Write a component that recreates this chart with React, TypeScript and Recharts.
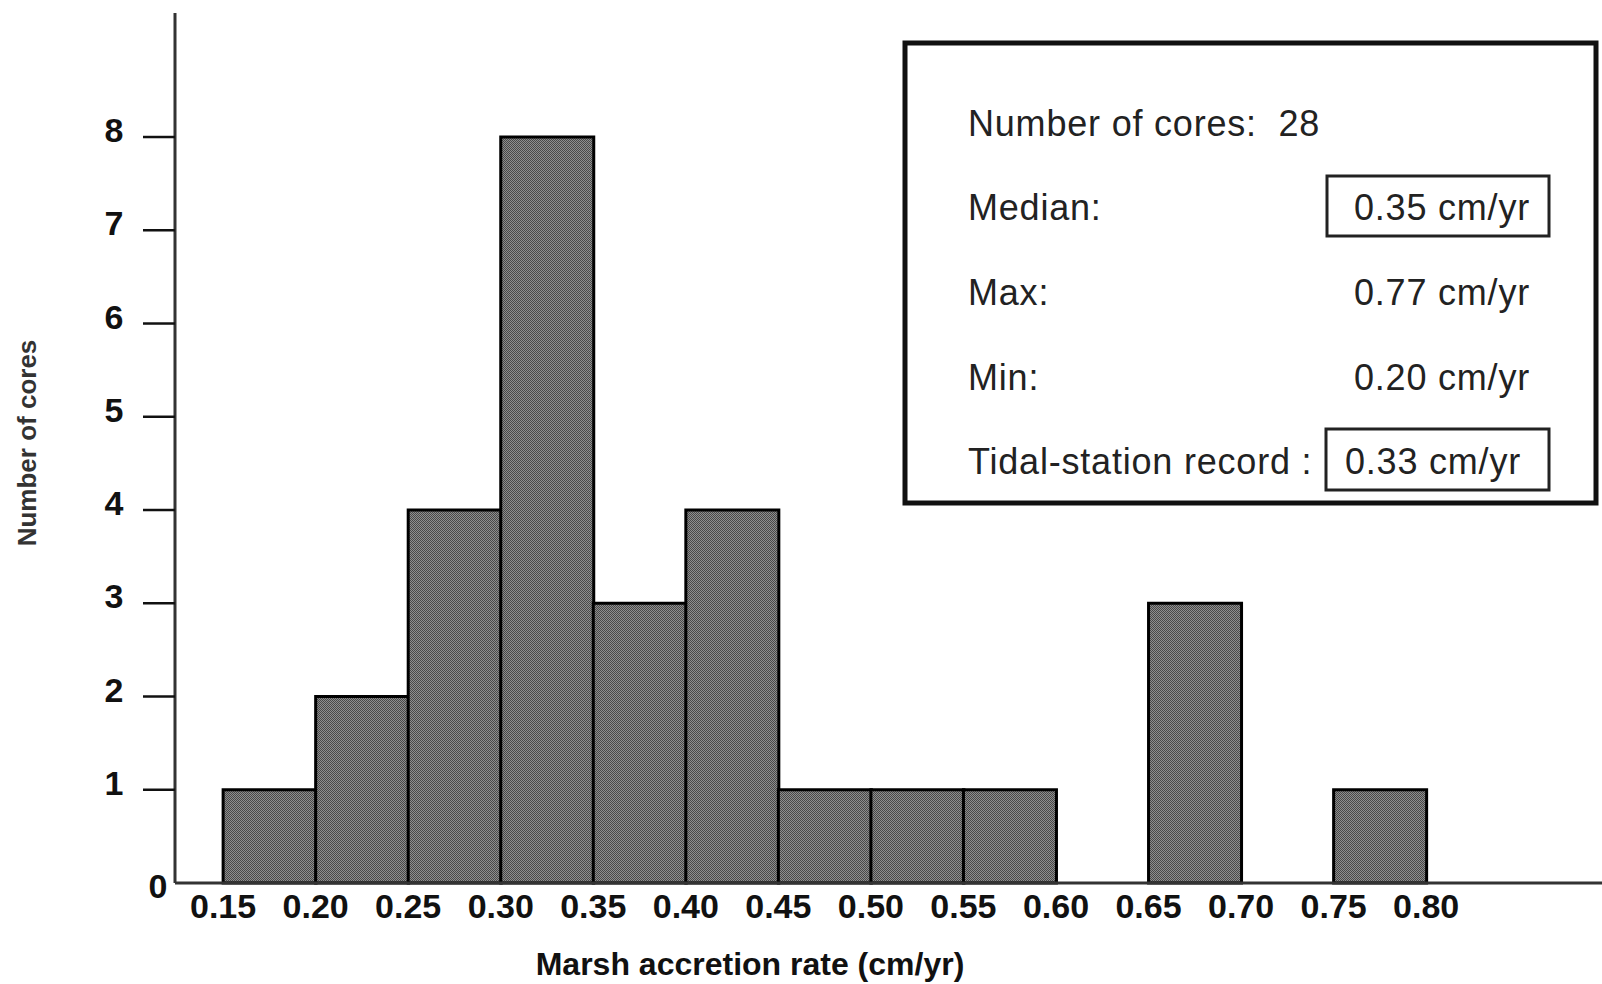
import React from 'react';
import { BarChart, Bar, XAxis, YAxis } from 'recharts';

// Histogram bins (centre of each 0.05 cm/yr class) and counts of cores
const binCenters = [0.175, 0.225, 0.275, 0.325, 0.375, 0.425, 0.475, 0.525, 0.575, 0.625, 0.675, 0.725, 0.775];
const coreCounts = [1, 2, 4, 8, 3, 4, 1, 1, 1, 0, 3, 0, 1];

// Axis ticks
const xTicks = [0.15, 0.2, 0.25, 0.3, 0.35, 0.4, 0.45, 0.5, 0.55, 0.6, 0.65, 0.7, 0.75, 0.8];
const yTicks = [0, 1, 2, 3, 4, 5, 6, 7, 8];

// Summary box texts
const coreTotal = 28;
const statLabels = ['Median:', 'Max:', 'Min:', 'Tidal-station record :'];
const statValues = ['0.35 cm/yr', '0.77 cm/yr', '0.20 cm/yr', '0.33 cm/yr'];
const statBoxed = [true, false, false, true];

const xTitle = 'Marsh accretion rate (cm/yr)';
const yTitle = 'Number of cores';

const data = binCenters.map((c, i) => ({ center: c, count: coreCounts[i] }));

const FONT = '"Liberation Sans", Arial, Helvetica, sans-serif';

const XTick = (props: any) => {
  const { x, y, payload } = props;
  return (
    <text
      x={x}
      y={y + 35}
      textAnchor="middle"
      fontFamily={FONT}
      fontWeight="bold"
      fontSize={34}
      fill="#111"
    >
      {Number(payload.value).toFixed(2)}
    </text>
  );
};

const YTick = (props: any) => {
  const { x, y, payload } = props;
  const v = payload.value;
  const zero = v === 0;
  return (
    <g>
      {!zero && <line x1={x - 32} x2={x} y1={y} y2={y} stroke="#111" strokeWidth={2.5} />}
      <text
        x={zero ? x - 17 : x - 61}
        y={zero ? y + 15 : y + 5}
        textAnchor="middle"
        fontFamily={FONT}
        fontWeight="bold"
        fontSize={34}
        fill="#111"
      >
        {v}
      </text>
    </g>
  );
};

export default function App() {
  const rowBaselines = [220, 305, 390, 474];
  const boxRects = [
    { x: 1327, y: 176, w: 222, h: 60 },
    null,
    null,
    { x: 1326, y: 429, w: 223, h: 61 },
  ];
  const boxText = { fontFamily: FONT, fontSize: 36, fill: '#222', letterSpacing: 0.8 };
  return (
    <div style={{ position: 'absolute', left: 0, top: 0, width: 1602, height: 984, background: '#fff' }}>
      <BarChart
        width={1602}
        height={984}
        data={data}
        margin={{ top: 13, right: 0, bottom: 0, left: 0 }}
        barCategoryGap={0}
        barGap={0}
      >
        <defs>
          <pattern id="checker" width="2" height="2" patternUnits="userSpaceOnUse">
            <rect x="0" y="0" width="2" height="2" fill="#8e8e8e" />
            <rect x="0" y="0" width="1" height="1" fill="#484848" />
            <rect x="1" y="1" width="1" height="1" fill="#484848" />
          </pattern>
        </defs>
        <XAxis
          dataKey="center"
          type="number"
          scale="linear"
          domain={[0.124, 0.895]}
          ticks={xTicks}
          interval={0}
          height={101}
          tickSize={0}
          tickMargin={0}
          tickLine={false}
          tick={<XTick />}
          axisLine={{ stroke: '#333', strokeWidth: 3 }}
        />
        <YAxis
          type="number"
          domain={[0, 9.33]}
          ticks={yTicks}
          interval={0}
          width={175}
          tickSize={0}
          tickMargin={0}
          tickLine={false}
          tick={<YTick />}
          axisLine={{ stroke: '#333', strokeWidth: 3 }}
        />
        <Bar
          dataKey="count"
          fill="url(#checker)"
          stroke="#000"
          strokeWidth={3}
          isAnimationActive={false}
        />
      </BarChart>
      <svg
        width={1602}
        height={984}
        style={{ position: 'absolute', left: 0, top: 0, pointerEvents: 'none' }}
      >
        <text
          x={750}
          y={975}
          textAnchor="middle"
          fontFamily={FONT}
          fontWeight="bold"
          fontSize={32}
          fill="#111"
        >
          {xTitle}
        </text>
        <text
          transform="translate(36,443) rotate(-90)"
          textAnchor="middle"
          fontFamily={FONT}
          fontWeight="bold"
          fontSize={26}
          fill="#333"
        >
          {yTitle}
        </text>
        <rect x={905} y={43} width={691} height={460} fill="none" stroke="#111" strokeWidth={5} />
        <text x={968} y={136} {...boxText}>
          {`Number of cores:\u00a0\u00a0${coreTotal}`}
        </text>
        {statLabels.map((lab, i) => (
          <g key={lab}>
            <text x={968} y={rowBaselines[i]} {...boxText}>
              {lab}
            </text>
            <text
              x={i === 3 ? 1521 : 1530}
              y={rowBaselines[i]}
              textAnchor="end"
              {...boxText}
            >
              {statValues[i]}
            </text>
            {statBoxed[i] && boxRects[i] && (
              <rect
                x={boxRects[i]!.x}
                y={boxRects[i]!.y}
                width={boxRects[i]!.w}
                height={boxRects[i]!.h}
                fill="none"
                stroke="#222"
                strokeWidth={3}
              />
            )}
          </g>
        ))}
      </svg>
    </div>
  );
}
